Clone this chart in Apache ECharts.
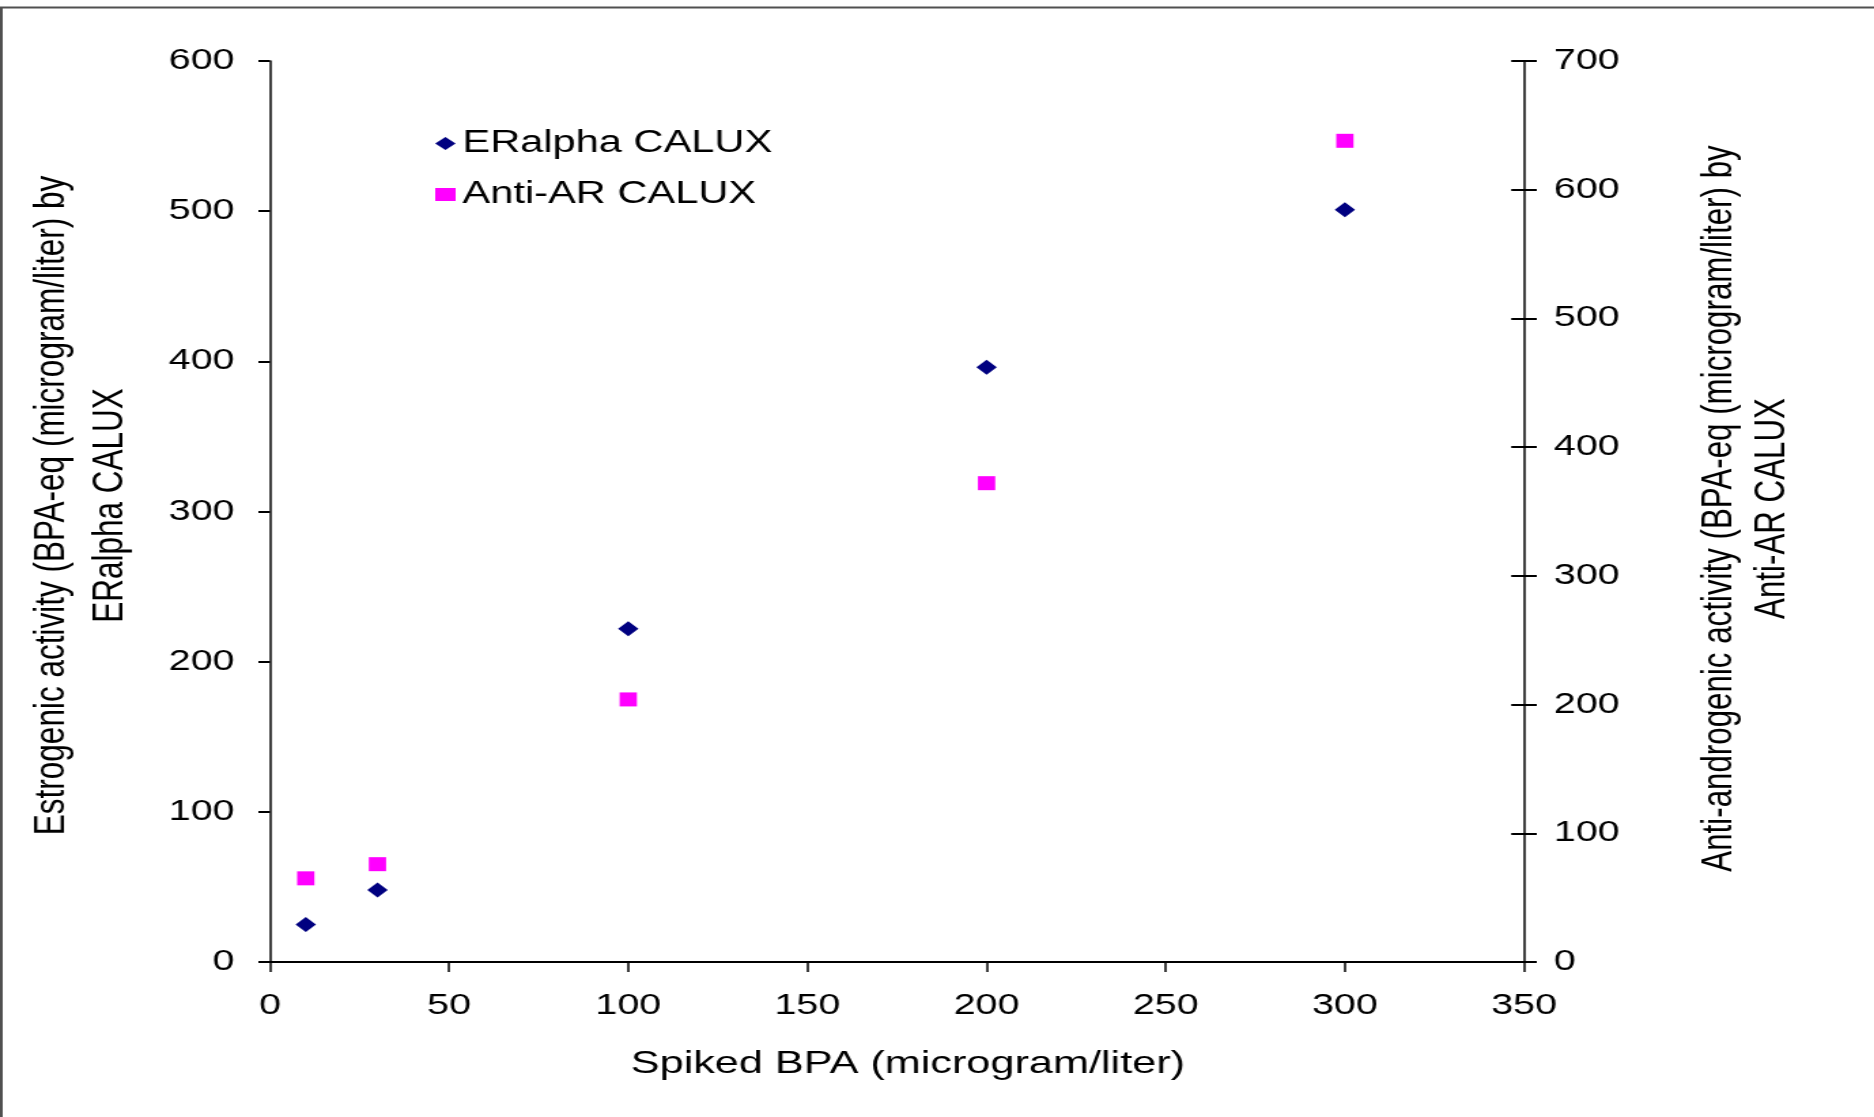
<!DOCTYPE html>
<html>
<head>
<meta charset="utf-8">
<script src="https://cdn.jsdelivr.net/npm/echarts@6/dist/echarts.min.js"></script>
<style>
  html, body { margin: 0; padding: 0; background: #fff; overflow: hidden; }
  #wrap { width: 1874px; height: 1117px; overflow: hidden; position: relative; }
  #chart { width: 1378px; height: 1117px; transform: scaleX(1.36); transform-origin: 0 0; }
</style>
</head>
<body>
<div id="wrap"><div id="chart"></div></div>
<script>
// Data
const spikedBPA = [10, 30, 100, 200, 300];
const eralphaValues = [25, 48, 222, 396, 501];
const antiARValues = [65, 76, 204, 372, 638];
const seriesNames = ['ERalpha CALUX', 'Anti-AR CALUX'];
const xTitle = 'Spiked BPA (microgram/liter)';
const yLeftTitle = 'Estrogenic activity (BPA-eq (microgram/liter) by\nERalpha CALUX';
const yRightTitle = 'Anti-androgenic activity (BPA-eq (microgram/liter) by\nAnti-AR CALUX';

const FONT = '"Liberation Sans", Arial, sans-serif';
const chart = echarts.init(document.getElementById('chart'), null, { renderer: 'canvas' });

const erData = spikedBPA.map((x, i) => [x, eralphaValues[i]]);
const arData = spikedBPA.map((x, i) => [x, antiARValues[i]]);

const gridBox = { left: 198.5, right: 257.4, top: 61, bottom: 155, containLabel: false };

chart.setOption({
  animation: false,
  backgroundColor: '#fff',
  graphic: [{
    type: 'rect',
    shape: { x: 1, y: 7.5, width: 2000, height: 2000 },
    style: { fill: 'none', stroke: '#505050', lineWidth: 2 },
    silent: true
  }],
  grid: [Object.assign({}, gridBox), Object.assign({}, gridBox)],
  legend: {
    orient: 'vertical',
    left: 315,
    top: 123,
    itemWidth: 15,
    itemHeight: 13,
    itemGap: 20,
    data: [
      { name: seriesNames[0], icon: 'diamond' },
      { name: seriesNames[1], icon: 'rect' }
    ],
    textStyle: { fontFamily: FONT, fontSize: 30.6, color: '#000', lineHeight: 30 }
  },
  xAxis: [{
    type: 'value',
    gridIndex: 0,
    min: 0, max: 350, interval: 50,
    name: xTitle,
    nameLocation: 'middle',
    nameGap: 86,
    nameTextStyle: { fontFamily: FONT, fontSize: 31.8, color: '#000', padding: [0, 0, 0, 16] },
    splitLine: { show: false },
    axisLine: { onZero: false, lineStyle: { color: '#000', width: 2 } },
    axisTick: { length: 10, lineStyle: { color: '#000', width: 1.5 } },
    axisLabel: { margin: 29.5, fontFamily: FONT, fontSize: 29, color: '#000' }
  }, {
    type: 'value',
    gridIndex: 1,
    min: 0, max: 350, interval: 50,
    show: false,
    axisLine: { show: false, onZero: false }
  }],
  yAxis: [{
    type: 'value',
    gridIndex: 0,
    position: 'left',
    min: 0, max: 600, interval: 100,
    name: yLeftTitle,
    nameLocation: 'middle',
    nameRotate: 90,
    nameGap: 96,
    nameTextStyle: { fontFamily: FONT, fontSize: 31.5, color: '#000', lineHeight: 43, align: 'center', padding: [0, 0, 0, 12] },
    splitLine: { show: false },
    axisLine: { show: true, onZero: false, lineStyle: { color: '#000', width: 1.5 } },
    axisTick: { show: true, length: 8.5, lineStyle: { color: '#000', width: 2 } },
    axisLabel: { margin: 26, fontFamily: FONT, fontSize: 29, color: '#000', padding: [5, 0, 0, 0] }
  }, {
    type: 'value',
    gridIndex: 0,
    position: 'right',
    min: 0, max: 700, interval: 100,
    name: yRightTitle,
    nameLocation: 'middle',
    nameRotate: 90,
    nameGap: 124,
    nameTextStyle: { fontFamily: FONT, fontSize: 31.3, color: '#000', lineHeight: 39, align: 'center', padding: [0, 0, 0, 6] },
    splitLine: { show: false },
    axisLine: { show: true, onZero: false, lineStyle: { color: '#000', width: 1.5 } },
    axisTick: { show: true, length: 9.4, lineStyle: { color: '#000', width: 2 } },
    axisLabel: { margin: 22, fontFamily: FONT, fontSize: 29, color: '#000', padding: [5, 0, 0, 0] }
  }, {
    type: 'value',
    gridIndex: 1,
    position: 'right',
    min: 0, max: 700, interval: 100,
    splitLine: { show: false },
    axisLine: { show: false, onZero: false },
    axisTick: { show: true, inside: true, length: 9.4, lineStyle: { color: '#000', width: 2 } },
    axisLabel: { show: false }
  }],
  series: [{
    name: seriesNames[0],
    type: 'scatter',
    xAxisIndex: 0,
    yAxisIndex: 0,
    symbol: 'diamond',
    symbolSize: [15, 15],
    itemStyle: { color: '#000080', opacity: 1 },
    data: erData,
    z: 3
  }, {
    name: seriesNames[1],
    type: 'scatter',
    xAxisIndex: 0,
    yAxisIndex: 1,
    symbol: 'rect',
    symbolSize: [12.7, 14],
    itemStyle: { color: '#FF00FF', opacity: 1 },
    data: arData,
    z: 2
  }]
});
</script>
</body>
</html>
